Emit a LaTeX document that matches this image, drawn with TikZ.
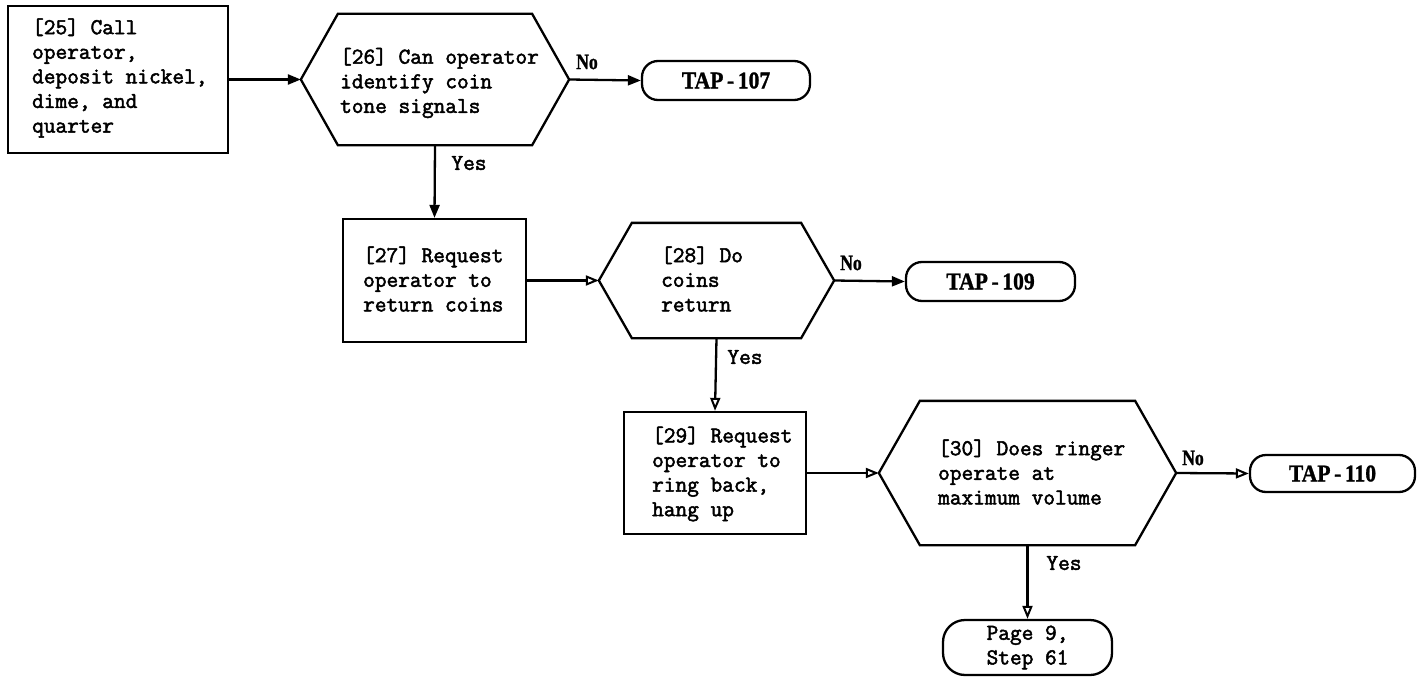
\documentclass[tikz,border=0pt]{standalone}
\usepackage{fontspec}
\newfontfamily\serifb{Liberation Serif}[FakeBold=1.2]
\newfontfamily\monob{Latin Modern Mono}[FakeBold=2.2]
\usetikzlibrary{arrows.meta}
\begin{document}
\begin{tikzpicture}[x=1pt,y=-1pt,
  line width=2.3pt,
  mono/.style={font=\fontsize{22.7}{24.6}\selectfont\monob, align=left, inner sep=0pt},
  stepbox/.style={draw, minimum width=#1, inner sep=0pt},
  hexa/.style={draw=none, inner sep=0pt},
  term/.style={draw, rounded corners=16pt, inner sep=0pt},
  termtxt/.style={font=\fontsize{24}{26}\selectfont\serifb\bfseries},
  lab/.style={font=\fontsize{22}{24}\selectfont\serifb\bfseries, inner sep=0pt},
  ylab/.style={font=\fontsize{22.7}{24.6}\selectfont\monob, inner sep=0pt},
  arr/.style={-{Triangle[length=13pt,width=10pt]}},
  arro/.style={-{Triangle[open,length=13pt,width=10pt,line width=2pt]}}
]
\useasboundingbox (0,0) rectangle (1422,677);
\fill[white] (0,0) rectangle (1422,677);

\def\hexpath#1#2{%
  \draw (#1.west) -- ([xshift=#2]#1.north west) -- ([xshift=-#2]#1.north east)
        -- (#1.east) -- ([xshift=-#2]#1.south east) -- ([xshift=#2]#1.south west) -- cycle;}

% boxes
\node[stepbox=220pt, minimum height=147pt] (b25) at (118,79.5) {};
\node[mono, anchor=west] (t25) at (31,78) {[25] Call\\operator,\\deposit nickel,\\dime, and\\quarter};

\node[hexa, minimum width=266pt, minimum height=129pt] (h26) at (435,79.5) {};
\hexpath{h26}{37pt}
\node[mono, anchor=west] (t26) at (339,83) {[26] Can operator\\identify coin\\tone signals};

\node[term, minimum width=168pt, minimum height=39pt] (e107) at (726,80.5) {};
\node[termtxt] (x107) at (e107.center) {\scalebox{0.9}[1]{TAP\,-\,107}};

\node[stepbox=183pt, minimum height=123pt] (b27) at (434.5,280.5) {};
\node[mono, anchor=west] (t27) at (362,279) {[27] Request\\operator to\\return coins};

\node[hexa, minimum width=233pt, minimum height=113pt] (h28) at (716.5,280.5) {};
\hexpath{h28}{33pt}
\node[mono, anchor=west] (t28) at (660,279) {[28] Do\\coins\\return};

\node[term, minimum width=169pt, minimum height=39pt] (e109) at (990.5,281.5) {};
\node[termtxt] (x109) at (e109.center) {\scalebox{0.9}[1]{TAP\,-\,109}};

\node[stepbox=182pt, minimum height=122pt] (b29) at (715,473) {};
\node[mono, anchor=west] (t29) at (651,474) {[29] Request\\operator to\\ring back,\\hang up};

\node[hexa, minimum width=295pt, minimum height=142pt] (h30) at (1027.5,473) {};
\hexpath{h30}{41pt}
\node[mono, anchor=west] (t30) at (937,472) {[30] Does ringer\\operate at\\maximum volume};

\node[term, minimum width=165pt, minimum height=37pt] (e110) at (1332.5,473.5) {};
\node[termtxt] (x110) at (e110.center) {\scalebox{0.9}[1]{TAP\,-\,110}};

\node[term, rounded corners=22pt, minimum width=169pt, minimum height=55pt] (p9) at (1027.5,647.5) {};
\node[mono, align=center] (tp9) at (p9.center) {Page 9,\\Step 61};

% connectors
\draw[arr] (b25.east) -- (h26.west);
\draw[arr] (h26.east) -- (e107.west);
\draw[arr] (h26.south) -- (b27.north);
\draw[arro] (b27.east) -- (h28.west);
\draw[arr] (h28.east) -- (e109.west);
\draw[arro] (h28.south) -- (b29.north);
\draw[arro] (b29.east) -- (h30.west);
\draw[arro] (h30.east) -- (e110.west);
\draw[arro] (h30.south) -- (p9.north);

% labels
\node[lab] (n1) at (587,62) {\scalebox{0.8}[1]{No}};
\node[ylab] (y1) at (469,163) {Yes};
\node[lab] (n2) at (851,263) {\scalebox{0.8}[1]{No}};
\node[ylab] (y2) at (745,357) {Yes};
\node[lab] (n3) at (1193,458) {\scalebox{0.8}[1]{No}};
\node[ylab] (y3) at (1064,563) {Yes};
\end{tikzpicture}
\end{document}
